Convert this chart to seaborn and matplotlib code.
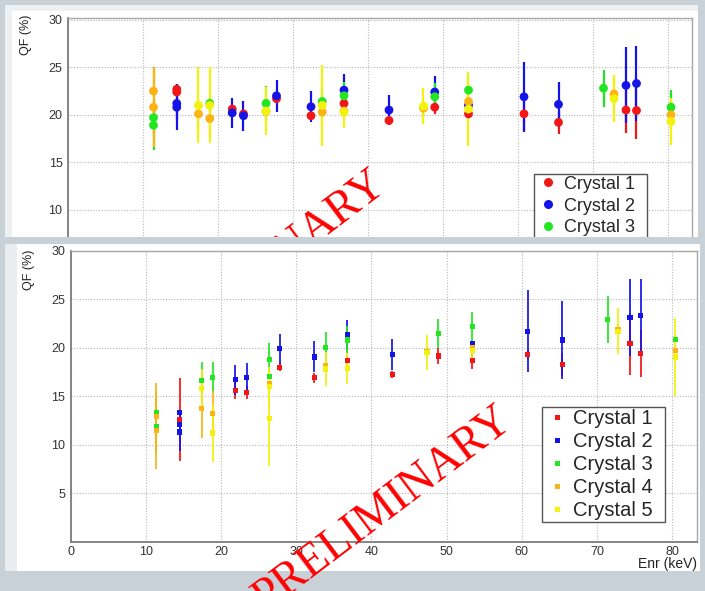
import matplotlib
matplotlib.use("Agg")
import matplotlib.pyplot as plt
from matplotlib.patches import Rectangle
from matplotlib.lines import Line2D
from matplotlib.ticker import MultipleLocator, FixedLocator
import pandas as pd
import seaborn as sns

# ---------------------------------------------------------------- data
CRYSTALS = ["Crystal 1", "Crystal 2", "Crystal 3", "Crystal 4", "Crystal 5"]
COLORS = ["#f21616", "#1414e8", "#22e622", "#fcb414", "#f2f20e"]

# upper panel: quenching factor (%) vs nuclear recoil energy (keV)
TOP_E1 = [14.5, 14.5, 21.9, 23.4, 27.8, 32.4, 36.8, 42.8, 48.9, 53.4, 60.8, 65.4, 74.4, 75.8]
TOP_QF1 = [22.7, 22.4, 20.6, 20.1, 21.7, 19.9, 21.2, 19.4, 20.8, 20.1, 20.1, 19.2, 20.5, 20.45]
TOP_ERR1 = [0.3, 0.3, 0.3, 0.3, 0.3, 0.3, 0.4, 0.4, 0.7, 0.5, 1.8, 1.2, 2.4, 3.0]

TOP_E2 = [14.5, 14.5, 21.9, 23.4, 27.8, 32.4, 36.8, 42.8, 48.9, 53.4, 60.8, 65.4, 74.4, 75.8]
TOP_QF2 = [21.2, 20.8, 20.2, 19.9, 22.0, 20.85, 22.6, 20.5, 22.4, 21.0, 21.9, 21.1, 23.1, 23.3]
TOP_ERR2 = [1.8, 2.4, 1.6, 1.6, 1.7, 1.65, 1.7, 1.6, 1.7, 0.3, 3.7, 2.4, 4.0, 4.0]

TOP_E3 = [11.4, 11.4, 18.9, 26.4, 33.9, 36.8, 48.9, 53.4, 71.4, 80.4]
TOP_QF3 = [19.7, 18.9, 21.2, 21.2, 21.4, 22.0, 21.9, 22.6, 22.8, 20.8]
TOP_ERR3 = [2.0, 2.6, 1.0, 1.8, 1.6, 1.5, 1.5, 1.5, 1.95, 1.8]

TOP_E4 = [11.4, 11.4, 17.4, 18.9, 26.4, 33.9, 36.8, 47.4, 53.4, 72.8, 80.4]
TOP_QF4 = [22.5, 20.8, 20.1, 19.6, 20.35, 20.3, 20.4, 20.7, 21.4, 22.2, 20.0]
TOP_ERR4 = [2.4, 4.2, 2.0, 1.8, 1.2, 1.5, 1.0, 1.0, 1.5, 1.5, 1.5]

TOP_E5 = [17.4, 18.9, 26.4, 33.9, 36.8, 47.4, 53.4, 72.8, 80.4]
TOP_QF5 = [21.0, 21.0, 20.4, 21.0, 20.3, 20.9, 20.6, 21.7, 19.3]
TOP_ERR5 = [4.0, 4.0, 2.5, 4.3, 1.7, 1.9, 3.9, 2.5, 2.5]

# lower panel
BOT_E1 = [14.5, 21.9, 23.4, 27.8, 32.4, 36.8, 42.8, 48.9, 53.4, 60.8, 65.4, 74.4, 75.8]
BOT_QF1 = [12.6, 15.6, 15.4, 18.0, 16.9, 18.7, 17.2, 19.15, 18.7, 19.3, 18.3, 20.4, 19.4]
BOT_ERR1 = [4.3, 0.9, 0.7, 0.45, 0.5, 0.5, 0.35, 0.8, 0.9, 0.5, 1.2, 3.2, 2.4]

BOT_E2 = [14.5, 14.5, 14.5, 21.9, 23.4, 27.8, 32.4, 36.8, 42.8, 53.4, 60.8, 65.4, 74.4, 75.8]
BOT_QF2 = [13.3, 12.1, 11.3, 16.7, 16.9, 19.9, 19.05, 21.3, 19.3, 20.4, 21.7, 20.8, 23.1, 23.3]
BOT_ERR2 = [0.3, 0.5, 2.0, 1.55, 1.5, 1.55, 1.6, 1.55, 1.6, 0.3, 4.2, 4.0, 4.0, 3.8]

BOT_E3 = [11.4, 11.4, 17.4, 18.9, 26.4, 26.4, 33.9, 36.8, 48.9, 53.4, 71.4, 80.4]
BOT_QF3 = [13.3, 11.9, 16.6, 16.9, 18.8, 17.05, 20.0, 20.8, 21.5, 22.15, 22.9, 20.85]
BOT_ERR3 = [0.3, 2.8, 1.9, 1.6, 1.65, 0.3, 1.6, 1.4, 1.5, 1.55, 2.45, 0.3]

BOT_E4 = [11.4, 11.4, 17.4, 18.9, 26.4, 33.9, 47.4, 53.4, 72.8, 80.4]
BOT_QF4 = [12.9, 11.5, 13.7, 13.2, 16.3, 18.2, 19.6, 20.0, 21.9, 19.7]
BOT_ERR4 = [3.5, 4.0, 3.0, 2.3, 0.5, 0.5, 0.5, 0.5, 0.5, 0.5]

BOT_E5 = [17.4, 18.9, 26.4, 26.4, 33.9, 36.8, 47.4, 53.4, 72.8, 80.4]
BOT_QF5 = [15.8, 11.2, 16.0, 12.7, 17.8, 17.9, 19.5, 19.7, 21.7, 19.05]
BOT_ERR5 = [2.0, 3.0, 2.0, 4.9, 1.75, 1.6, 1.8, 1.0, 2.4, 4.0]

X_TICKS = [0, 10, 20, 30, 40, 50, 60, 70, 80]
Y_TICKS = [5, 10, 15, 20, 25, 30]
TOP_Y_TICKS = [10, 15, 20, 25, 30]   # the rest of the upper frame is covered

# ---------------------------------------------------------------- helpers
W, H = 705, 591
BG = "#c8d1d8"
PALETTE = dict(zip(CRYSTALS, COLORS))


def px_box(x0, y0, x1, y1):
    """Pixel box (origin top-left) -> figure-fraction [left, bottom, width, height]."""
    return [x0 / W, 1 - y1 / H, (x1 - x0) / W, (y1 - y0) / H]


def fig_pt(x, y):
    return x / W, 1 - y / H


def panel_rect(x0, y0, x1, y1, color, z):
    l, b, w, h = px_box(x0, y0, x1, y1)
    return Rectangle((l, b), w, h, transform=fig.transFigure, facecolor=color,
                     edgecolor="none", zorder=z)


def panel_frame(energies, qfs, errs):
    parts = []
    for name, e, q, d in zip(CRYSTALS, energies, qfs, errs):
        parts.append(pd.DataFrame({"crystal": name, "energy": e, "qf": q, "err": d}))
    return pd.concat(parts, ignore_index=True)


def style_axes(ax, xmax, ymax, yticks):
    ax.set_xlim(0, xmax)
    ax.set_ylim(0, ymax)
    ax.set_facecolor("white")
    ax.xaxis.set_major_locator(FixedLocator(X_TICKS))
    ax.xaxis.set_minor_locator(MultipleLocator(2))
    ax.yaxis.set_major_locator(FixedLocator(yticks))
    ax.yaxis.set_minor_locator(MultipleLocator(1))
    ax.tick_params(axis="y", which="major", direction="in", length=13.5, width=1.0,
                   color="#707070", labelsize=9, labelcolor="#333333", pad=4)
    ax.tick_params(axis="y", which="minor", direction="in", length=6.7, width=0.9,
                   color="#707070")
    ax.tick_params(axis="x", which="major", direction="in", length=6.2, width=1.0,
                   color="#707070", labelsize=9, labelcolor="#333333", pad=3)
    ax.tick_params(axis="x", which="minor", direction="in", length=3.2, width=0.9,
                   color="#707070")
    ax.grid(True, which="major", color="#b8b8b8", linestyle=(0, (1, 1.5)), linewidth=0.8)
    ax.set_axisbelow(True)
    for side in ("left", "bottom"):
        ax.spines[side].set_color("#7c7c7c")
        ax.spines[side].set_linewidth(1.3)
    for side in ("top", "right"):
        ax.spines[side].set_color("#a8a8a8")
        ax.spines[side].set_linewidth(1.0)


def draw_points(ax, df, marker, size, elw):
    for name in CRYSTALS:
        grp = df[df["crystal"] == name]
        ax.errorbar(grp["energy"], grp["qf"], yerr=grp["err"], fmt="none",
                    ecolor=PALETTE[name], elinewidth=elw, capsize=0, zorder=2)
    sns.scatterplot(data=df, x="energy", y="qf", hue="crystal", palette=PALETTE,
                    hue_order=CRYSTALS, marker=marker, s=size, linewidth=0,
                    legend=False, ax=ax, zorder=3)
    ax.set_xlabel("")
    ax.set_ylabel("")


# ---------------------------------------------------------------- figure
sns.set_style("white")
plt.rcParams["font.family"] = ["Liberation Sans", "DejaVu Sans"]

fig = plt.figure(figsize=(W / 100, H / 100), dpi=100)
fig.patch.set_facecolor(BG)

# upper slide panel
fig.add_artist(panel_rect(5, 5, 698, 237, "#eef1f3", -3))
fig.add_artist(panel_rect(12, 11, 698, 237, "white", -2))

top_df = panel_frame([TOP_E1, TOP_E2, TOP_E3, TOP_E4, TOP_E5],
                     [TOP_QF1, TOP_QF2, TOP_QF3, TOP_QF4, TOP_QF5],
                     [TOP_ERR1, TOP_ERR2, TOP_ERR3, TOP_ERR4, TOP_ERR5])
ax_top = fig.add_axes(px_box(68, 18, 692, 304.6), zorder=0)
style_axes(ax_top, 83.2, 30.2, TOP_Y_TICKS)
ax_top.tick_params(axis="x", labelbottom=False)
draw_points(ax_top, top_df, "o", 40, 1.6)

top_handles = [Line2D([], [], marker="o", linestyle="none", color=c,
                      markersize=6.5, markeredgewidth=0) for c in COLORS]
x0, y0 = fig_pt(534, 174)
leg = ax_top.legend(top_handles, CRYSTALS, loc="upper left",
                    bbox_to_anchor=(x0, y0 - 0.3, 113 / W, 0.3),
                    bbox_transform=fig.transFigure, mode="expand",
                    fontsize=13, frameon=True, fancybox=False, framealpha=1,
                    edgecolor="#555555", borderpad=0.1, labelspacing=0.26,
                    handlelength=1.33, handletextpad=0.22, borderaxespad=0)
leg.get_frame().set_linewidth(1.0)

fig.text(*fig_pt(26, 15), "QF (%)", rotation=90, ha="center", va="top",
         fontsize=9, color="#222222", zorder=1)

# watermark on the upper panel (covered by the lower panel)
fig.text(*fig_pt(264, 282), "PRELIMINARY", rotation=37, rotation_mode="anchor",
         ha="center", va="baseline", fontsize=33, color="#ff0000",
         family="Liberation Serif", zorder=1)

# lower slide panel, laid over the bottom part of the upper one
fig.add_artist(panel_rect(0, 237, W, 244, BG, 1.9))
fig.add_artist(panel_rect(5, 244, 700, 571, "#e9edf0", 2))
fig.add_artist(panel_rect(17, 244, 700, 571, "white", 2.1))

bot_df = panel_frame([BOT_E1, BOT_E2, BOT_E3, BOT_E4, BOT_E5],
                     [BOT_QF1, BOT_QF2, BOT_QF3, BOT_QF4, BOT_QF5],
                     [BOT_ERR1, BOT_ERR2, BOT_ERR3, BOT_ERR4, BOT_ERR5])
ax_bot = fig.add_axes(px_box(70.7, 250.7, 697, 541.7), zorder=3)
style_axes(ax_bot, 83.3, 30, Y_TICKS)
draw_points(ax_bot, bot_df, "s", 14, 1.25)

bot_handles = [Line2D([], [], marker="s", linestyle="none", color=c,
                      markersize=3.6, markeredgewidth=0) for c in COLORS]
x0, y0 = fig_pt(541.7, 406.7)
leg = ax_bot.legend(bot_handles, CRYSTALS, loc="upper left",
                    bbox_to_anchor=(x0, y0 - 0.3, 123.3 / W, 0.3),
                    bbox_transform=fig.transFigure, mode="expand",
                    fontsize=14.5, frameon=True, fancybox=False, framealpha=1,
                    edgecolor="#555555", borderpad=0.1, labelspacing=0.2,
                    handlelength=1.3, handletextpad=0.15, borderaxespad=0)
leg.get_frame().set_linewidth(1.0)

fig.text(*fig_pt(29, 250), "QF (%)", rotation=90, ha="center", va="top",
         fontsize=9, color="#222222", zorder=4)
fig.text(*fig_pt(697, 564), "Enr (keV)", ha="right", va="center",
         fontsize=10, color="#222222", zorder=4)

fig.text(*fig_pt(390, 518), "PRELIMINARY", rotation=37, rotation_mode="anchor",
         ha="center", va="baseline", fontsize=33, color="#ff0000",
         family="Liberation Serif", zorder=5)

fig.savefig("out.png", dpi=100, facecolor=fig.get_facecolor())
